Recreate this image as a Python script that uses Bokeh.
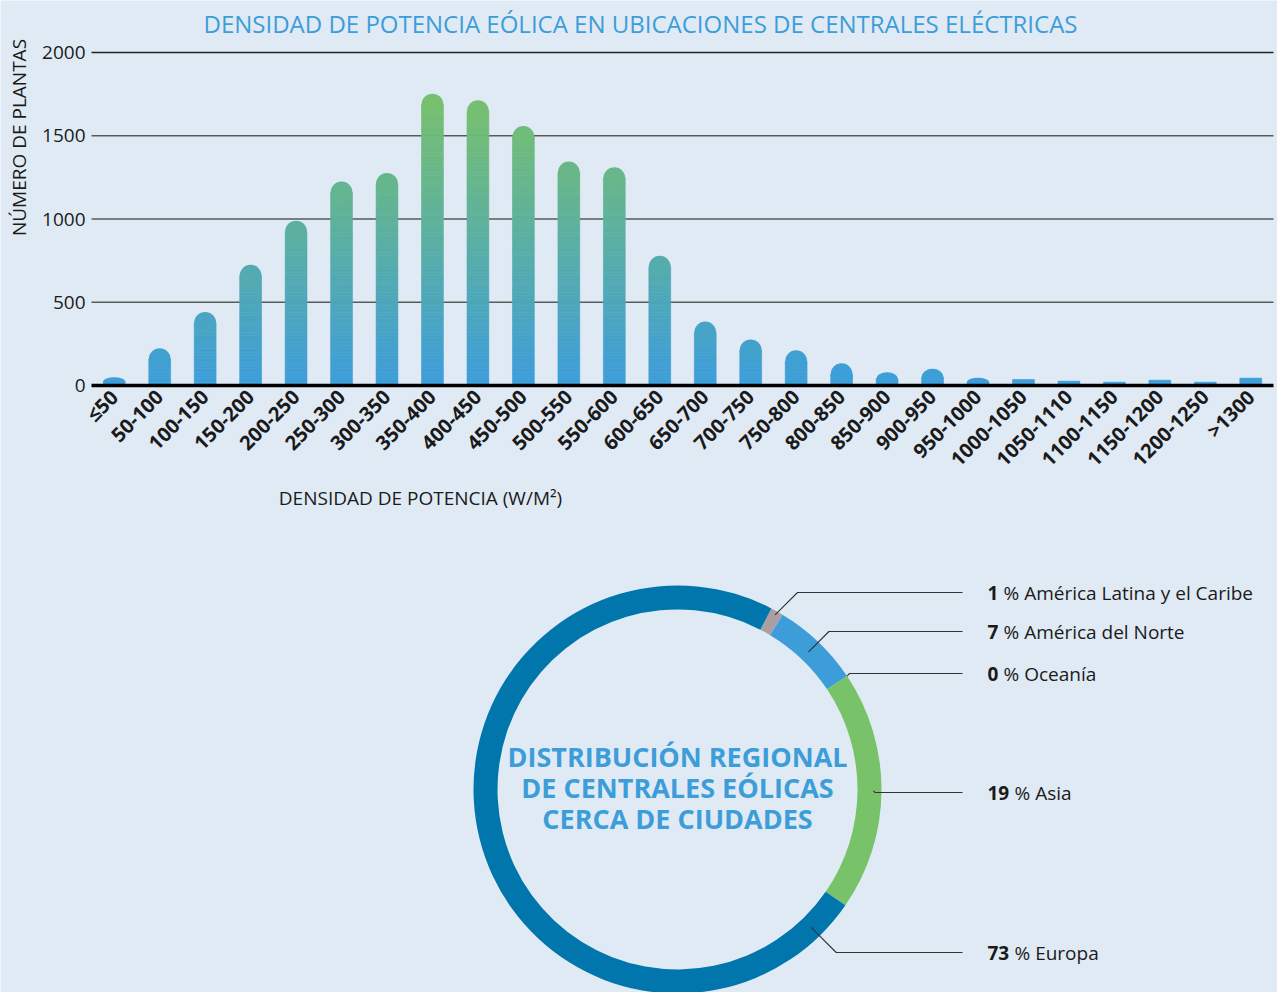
import math
from bokeh.plotting import figure
from bokeh.models import Range1d
from bokeh.core.properties import value
from bokeh.embed import file_html
from bokeh.resources import INLINE

# ---------------- data ----------------
density_bins = ["≤50", "50-100", "100-150", "150-200", "200-250", "250-300", "300-350",
                "350-400", "400-450", "450-500", "500-550", "550-600", "600-650", "650-700",
                "700-750", "750-800", "800-850", "850-900", "900-950", "950-1000",
                "1000-1050", "1050-1110", "1100-1150", "1150-1200", "1200-1250", ">1300"]
plant_counts = [50, 223, 442, 725, 990, 1225, 1277, 1753, 1713, 1558, 1345, 1311, 779,
                384, 277, 211, 133, 80, 100, 46, 36, 26, 20, 32, 20, 44]
y_tick_values = [0, 500, 1000, 1500, 2000]
y_tick_labels = ["0", "500", "1000", "1500", "2000"]

regions = ["América Latina y el Caribe", "América del Norte", "Oceanía", "Asia", "Europa"]
region_share = [1, 7, 0, 19, 73]

title_text = "DENSIDAD DE POTENCIA EÓLICA EN UBICACIONES DE CENTRALES ELÉCTRICAS"
y_label_text = "NÚMERO DE PLANTAS"
x_label_text = "DENSIDAD DE POTENCIA (W/M²)"
donut_title_lines = ["DISTRIBUCIÓN REGIONAL", "DE CENTRALES EÓLICAS", "CERCA DE CIUDADES"]

# ---------------- style / layout ----------------
BG = "#e0eaf5"
W = 1277
H = 992
BLUE = (60, 157, 219)
GREEN = (121, 193, 107)
FONT = "Open Sans"
TXT = "#1a1a1a"

# pixel geometry (page coordinates) of the bar chart
X_LEFT, X_RIGHT = 91, 1273
Y_ZERO, Y_2000 = 385, 52
px_per_cat = (X_RIGHT - X_LEFT) / len(density_bins)
px_per_unit = (Y_ZERO - Y_2000) / 2000.0
BAR_W = 0.48


def grad(v):
    t = max(0.0, min(1.0, v / 1750.0))
    c = [round(b + (g - b) * t) for b, g in zip(BLUE, GREEN)]
    return "#%02x%02x%02x" % tuple(c)


def fx(page_x):
    return (page_x - X_LEFT) / px_per_cat


def fy(page_y):
    return (Y_ZERO - page_y) / px_per_unit


p = figure(width=W, height=H, x_range=Range1d(fx(0), fx(W)), y_range=Range1d(fy(H), fy(0)),
           output_backend="svg", toolbar_location=None,
           min_border_left=0, min_border_right=0, min_border_top=0, min_border_bottom=0,
           background_fill_color=BG, border_fill_color=BG, outline_line_color=None,
           x_axis_type=None, y_axis_type=None)
p.grid.visible = False

n_cat = len(density_bins)
centers = [i + 0.5 for i in range(n_cat)]

# ---------------- bar chart ----------------
grid_vals = [v for v in y_tick_values if v > 0]
p.segment(x0=[0] * len(grid_vals), x1=[n_cat] * len(grid_vals), y0=grid_vals, y1=grid_vals,
          line_color=["#5a5a5a", "#5a5a5a", "#5a5a5a", "#222222"], line_width=1.4)

cap_px = BAR_W * px_per_cat / 2
cap_u = cap_px / px_per_unit
STEP = 20
ROUND_MIN = 45
xs, bots, tops, cols = [], [], [], []
cx, cy, ch, cc = [], [], [], []
for xc, v in zip(centers, plant_counts):
    h = min(cap_u, v / 2.0) if v >= ROUND_MIN else 0.0
    body_top = v - h
    b = 0.0
    while b < body_top - 1e-9:
        t = min(b + STEP, body_top)
        xs.append(xc); bots.append(b); tops.append(t); cols.append(grad((b + t) / 2))
        b = t
    if h > 0:
        cx.append(xc); cy.append(body_top); ch.append(2 * h); cc.append(grad(body_top))

p.vbar(x=xs, bottom=bots, top=tops, width=BAR_W, fill_color=cols, line_color=cols, line_width=0.6)
p.ellipse(x=cx, y=cy, width=BAR_W, height=ch, fill_color=cc, line_color=None)

p.segment(x0=[0], x1=[n_cat], y0=[0], y1=[0], line_color="#000000", line_width=3.5)

p.text(x=[fx(X_LEFT - 6)] * len(y_tick_values), y=y_tick_values, text=y_tick_labels,
       text_font=value(FONT), text_font_size="19px", text_color=TXT,
       text_align="right", text_baseline="middle")

p.text(x=centers, y=[-8 / px_per_unit] * n_cat, text=density_bins, angle=math.pi / 4,
       text_font=value(FONT), text_font_style="bold", text_font_size="20px", text_color=TXT,
       text_align="right", text_baseline="middle")

p.text(x=[fx(640)], y=[fy(23)], text=[title_text], text_font=value(FONT),
       text_font_size="24px", text_color="#3d9dd9", text_align="center", text_baseline="middle")
p.text(x=[fx(18)], y=[fy(137)], text=[y_label_text], angle=math.pi / 2, text_font=value(FONT),
       text_font_size="19px", text_color=TXT, text_align="center", text_baseline="middle")
p.text(x=[fx(420)], y=[fy(497)], text=[x_label_text], text_font=value(FONT),
       text_font_size="19px", text_color=TXT, text_align="center", text_baseline="middle")

# ---------------- donut ----------------
CX, CY = 677, 789
R_IN, R_OUT = 180, 204
THETA0 = 27.4
region_colors = ["#a99fa5", "#3d9dd9", "#2b6f9e", "#78c36a", "#0076ad"]
label_y = [592, 631, 673, 792, 952]
leader_frac = [0.5, 0.5, 0.5, 0.5, 0.043]
leader_r = [200, 190, 204, 196, 192]
LINE_END = 962
LABEL_X = 987

ws, we, wc = [], [], []
lx, ly = [], []
cum = 0
for i, s in enumerate(region_share):
    ts = THETA0 + 3.6 * cum
    te = ts + 3.6 * s
    cum += s
    if s > 0:
        ws.append(math.radians(90 - ts)); we.append(math.radians(90 - te)); wc.append(region_colors[i])
    ta = math.radians(ts + leader_frac[i] * (te - ts))
    ax = CX + leader_r[i] * math.sin(ta)
    ay = CY - leader_r[i] * math.cos(ta)
    yl = label_y[i]
    ex = ax + abs(yl - ay)
    lx.append([fx(ax), fx(ex), fx(LINE_END)])
    ly.append([fy(ay), fy(yl), fy(yl)])

p.annular_wedge(x=fx(CX), y=fy(CY), inner_radius=R_IN, inner_radius_units="screen",
                outer_radius=R_OUT, outer_radius_units="screen",
                start_angle=ws, end_angle=we, direction="clock",
                fill_color=wc, line_color=None)
p.multi_line(xs=lx, ys=ly, line_color="#333333", line_width=1.1)

nums = [str(s) for s in region_share]
p.text(x=[fx(LABEL_X)] * len(nums), y=[fy(v) for v in label_y], text=nums,
       text_font=value(FONT), text_font_style="bold", text_font_size="19px",
       text_color=TXT, text_align="left", text_baseline="middle")
p.text(x=[fx(LABEL_X + 11 * len(n) + 5) for n in nums], y=[fy(v) for v in label_y],
       text=["% " + r for r in regions],
       text_font=value(FONT), text_font_size="19px",
       text_color=TXT, text_align="left", text_baseline="middle")

p.text(x=[fx(CX)] * 3, y=[fy(756), fy(787), fy(818)], text=donut_title_lines,
       text_font=value(FONT), text_font_style="bold", text_font_size="27px",
       text_color="#3d9dd9", text_align="center", text_baseline="middle")

open("out.html", "w").write(file_html(p, INLINE))
